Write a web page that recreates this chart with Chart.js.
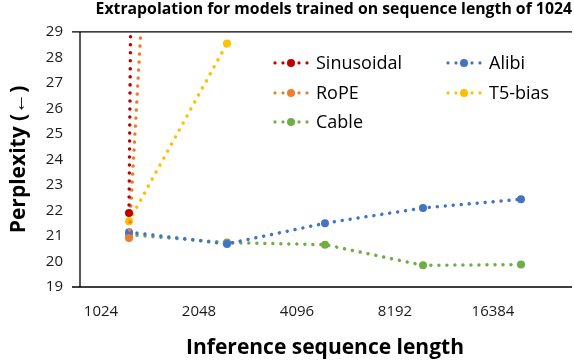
<!DOCTYPE html>
<html>
<head>
<meta charset="utf-8">
<script src="https://cdn.jsdelivr.net/npm/chart.js@4"></script>
<style>
  html, body { margin: 0; padding: 0; background: #fff; }
  #wrap { width: 574px; height: 362px; }
</style>
</head>
<body>
<div id="wrap"><canvas id="chartPE"></canvas></div>
<script>
const seqLengths = ['1024', '2048', '4096', '8192', '16384']

// perplexity per inference length (Sinusoidal / RoPE / T5-bias blow up past 1024)
const sinusoidal = [21.9, 470]
const rope = [20.92, 88]
const alibi = [21.15, 20.69, 21.5, 22.1, 22.44]
const t5bias = [21.58, 28.55]
const cable = [21.05, 20.74, 20.66, 19.85, 19.88]

const yMin = 19
const yMax = 29

const mkSet = (label, data, color) => ({
  label: label,
  data: data,
  borderColor: color,
  backgroundColor: color,
  borderWidth: 3.5,
  borderDash: [0.01, 8],
  borderCapStyle: 'round',
  pointRadius: 4,
  pointHoverRadius: 4,
  pointBorderWidth: 0,
  tension: 0
})

// legend drawn inside the plot, two columns like the original
const legendSpots = [
  { x: 195, y: 31 },
  { x: 195, y: 61 },
  { x: 368, y: 31 },
  { x: 368, y: 61 },
  { x: 195, y: 90 }
]

const insideLegend = {
  id: 'insideLegend',
  afterDraw(chart) {
    const ctx = chart.ctx
    const area = chart.chartArea
    chart.data.datasets.forEach((ds, i) => {
      const p = legendSpots[i]
      const x = area.left + p.x
      const y = area.top + p.y
      ctx.save()
      ctx.fillStyle = ds.borderColor
      ;[0, 8, 24, 32].forEach((dx) => {
        ctx.beginPath()
        ctx.arc(x + dx, y, 1.6, 0, Math.PI * 2)
        ctx.fill()
      })
      ctx.beginPath()
      ctx.arc(x + 16, y, 4, 0, Math.PI * 2)
      ctx.fill()
      ctx.fillStyle = '#000'
      ctx.font = '18px "Open Sans"'
      ctx.textBaseline = 'middle'
      ctx.fillText(ds.label, x + 41, y + 1)
      ctx.restore()
    })
  }
}

const frameLines = {
  id: 'frameLines',
  afterDraw(chart) {
    const ctx = chart.ctx
    const a = chart.chartArea
    ctx.save()
    ctx.strokeStyle = '#000'
    ctx.lineWidth = 1.3
    ctx.beginPath()
    ctx.moveTo(a.left - 8, a.top)
    ctx.lineTo(a.right + 2, a.top)
    ctx.moveTo(a.left - 8, a.bottom)
    ctx.lineTo(a.right + 2, a.bottom)
    ctx.moveTo(a.left, a.top)
    ctx.lineTo(a.left, a.bottom)
    ctx.stroke()
    ctx.restore()
  }
}

const ctx = document.getElementById('chartPE').getContext('2d')

const chartPE = new Chart(ctx, {
  type: 'line',
  data: {
    labels: seqLengths,
    datasets: [
      mkSet('Sinusoidal', sinusoidal, '#C00000'),
      mkSet('RoPE', rope, '#ED7D31'),
      mkSet('Alibi', alibi, '#4472C4'),
      mkSet('T5-bias', t5bias, '#FFC000'),
      mkSet('Cable', cable, '#70AD47')
    ]
  },
  options: {
    responsive: true,
    maintainAspectRatio: false,
    animation: false,
    layout: { padding: { left: 0, right: 2, top: 0, bottom: 0 } },
    scales: {
      x: {
        offset: true,
        grid: { display: false, drawTicks: false },
        border: { display: false },
        ticks: {
          color: '#1a1a1a',
          font: { family: 'Open Sans', size: 15 },
          padding: 16,
          labelOffset: -28
        },
        title: {
          display: true,
          text: 'Inference sequence length',
          color: '#000',
          font: { family: 'Open Sans', size: 21, weight: 'bold' },
          padding: { top: 0, bottom: 1 }
        },
        afterFit(scale) { scale.height = 75 }
      },
      y: {
        min: yMin,
        max: yMax,
        grid: { display: false, drawTicks: false },
        border: { display: false },
        ticks: {
          stepSize: 1,
          color: '#1a1a1a',
          font: { family: 'Open Sans', size: 15 },
          padding: 17
        },
        title: {
          display: true,
          text: 'Perplexity (←)',
          color: '#000',
          font: { family: 'Open Sans', size: 21, weight: 'bold' },
          padding: { top: 6, bottom: 0 }
        },
        afterFit(scale) { scale.width = 80 }
      }
    },
    plugins: {
      legend: { display: false },
      tooltip: { enabled: false },
      title: {
        display: true,
        text: 'Extrapolation for models trained on sequence length of 1024',
        align: 'end',
        color: '#000',
        font: { family: 'Open Sans', size: 15.8, weight: 'bold', lineHeight: 1.2 },
        padding: { top: 0, bottom: 13 }
      }
    }
  },
  plugins: [insideLegend, frameLines]
})
</script>
</body>
</html>
